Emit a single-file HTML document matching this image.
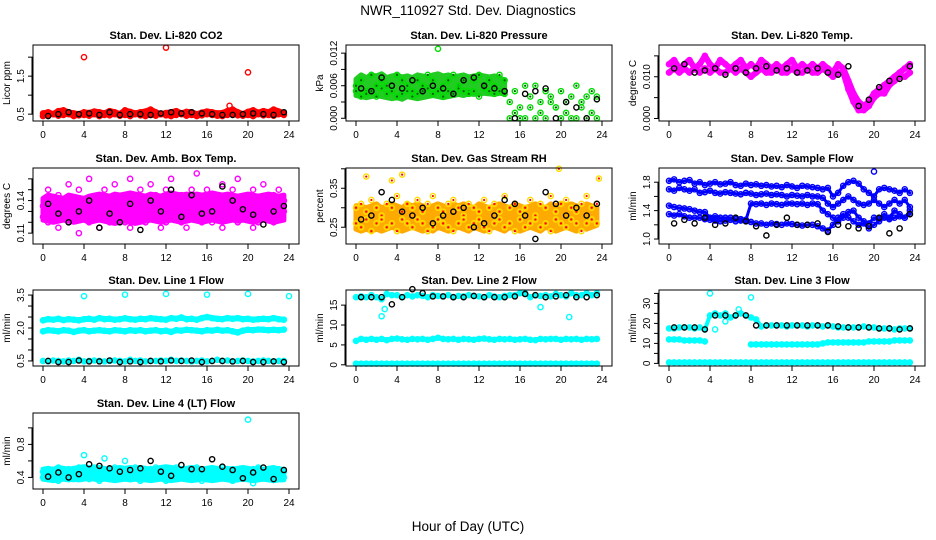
<!DOCTYPE html>
<html><head><meta charset="utf-8"><style>
html,body{margin:0;padding:0;background:#fff;}
svg{display:block;font-family:"Liberation Sans",sans-serif;}
</style></head><body>
<svg id="chart" width="936" height="540" viewBox="0 0 936 540" xmlns="http://www.w3.org/2000/svg">
<text x="468" y="15" text-anchor="middle" font-size="13.5">NWR_110927  Std. Dev. Diagnostics</text>
<text x="468" y="531" text-anchor="middle" font-size="13.5">Hour of Day (UTC)</text>
</svg>
<script>
// ---- shared time categories ----
const H48 = [0,0.5,1,1.5,2,2.5,3,3.5,4,4.5,5,5.5,6,6.5,7,7.5,8,8.5,9,9.5,10,10.5,11,11.5,12,12.5,13,13.5,14,14.5,15,15.5,16,16.5,17,17.5,18,18.5,19,19.5,20,20.5,21,21.5,22,22.5,23,23.5];
const H24 = [0.5,1.5,2.5,3.5,4.5,5.5,6.5,7.5,8.5,9.5,10.5,11.5,12.5,13.5,14.5,15.5,16.5,17.5,18.5,19.5,20.5,21.5,22.5,23.5];
const H30 = [0,0.5,1,1.5,2,2.5,3,3.5,4,4.5,5,5.5,6,6.5,7,7.5,8,8.5,9,9.5,10,10.5,11,11.5,12,12.5,13,13.5,14,14.5];
const xTicks = [0,4,8,12,16,20,24];

// ---- CO2 ----
const co2A = [0.52,0.55,0.50,0.58,0.60,0.55,0.52,0.50,0.55,0.53,0.57,0.55,0.52,0.58,0.55,0.50,0.60,0.56,0.52,0.55,0.57,0.62,0.55,0.50,0.53,0.55,0.58,0.52,0.56,0.55,0.50,0.54,0.57,0.55,0.52,0.53,0.58,0.62,0.55,0.50,0.56,0.60,0.54,0.58,0.55,0.62,0.57,0.52];
const co2B = [0.45,0.48,0.50,0.46,0.48,0.50,0.45,0.47,0.48,0.46,0.50,0.45,0.48,0.47,0.50,0.46,0.48,0.45,0.50,0.47,0.45,0.48,0.46,0.50,0.47,0.45,0.48,0.50,0.46,0.48,0.45,0.47,0.50,0.48,0.46,0.45,0.48,0.50,0.47,0.46,0.48,0.45,0.50,0.47,0.48,0.46,0.50,0.48];
const co2K = [0.45,0.50,0.55,0.50,0.52,0.48,0.55,0.48,0.50,0.50,0.48,0.52,0.55,0.52,0.55,0.52,0.50,0.48,0.48,0.50,0.52,0.50,0.48,0.55];
const co2OutX = [4,12,20,18.2];
const co2OutY = [2.0,2.25,1.6,0.72];

// ---- Pressure ----
const presA = [0.006,0.007,0.005,0.008,0.006,0.007,0.006,0.005,0.008,0.007,0.006,0.005,0.007,0.006,0.008,0.007,0.005,0.006,0.007,0.008,0.006,0.007,0.005,0.007,0.008,0.006,0.007,0.006,0.008,0.007,0.003,0.005,0.002,0.006,0.004,0.006,0.003,0.005,0.004,0.002,0.005,0.003,0.004,0.006,0.003,0.004,0.005,0.004];
const presB = [0.005,0.004,0.0045,0.005,0.004,0.0055,0.0045,0.005,0.004,0.0045,0.005,0.004,0.0045,0.005,0.0055,0.0045,0.005,0.004,0.005,0.0045,0.0055,0.005,0.0045,0.005,0.004,0.0055,0.005,0.0045,0.005,0.0045,0.0,0.001,0.0,0.0,0.002,0.0,0.001,0.0,0.003,0.002,0.0,0.001,0.0,0.0,0.002,0.0,0.001,0.0];
const presHi = [0.0072,0.008,0.0075,0.008,0.0078,0.0082,0.0075,0.0078,0.008,0.0076,0.0078,0.0075,0.008,0.0078,0.0076,0.008,0.0082,0.0078,0.008,0.0076,0.0078,0.008,0.0076,0.0078,0.008,0.0078,0.0076,0.0078,0.0075,0.007];
const presLo = [0.0042,0.004,0.0038,0.004,0.0042,0.004,0.0038,0.0036,0.0038,0.0035,0.004,0.0038,0.0036,0.0038,0.004,0.0042,0.004,0.0038,0.004,0.0042,0.0044,0.0042,0.0045,0.0044,0.0045,0.0046,0.0045,0.0044,0.0046,0.0045];
const presK = [0.0055,0.005,0.0075,0.006,0.0055,0.007,0.005,0.006,0.0055,0.0045,0.007,0.0075,0.006,0.0055,0.005,0.0,0.0045,0.005,0.0055,0.0,0.003,0.002,0.0,0.0035];
const presOutX = [8];
const presOutY = [0.0128];

// ---- Li-820 Temp ----
const tempA = [0.013,0.014,0.012,0.013,0.014,0.012,0.013,0.015,0.013,0.012,0.014,0.013,0.012,0.013,0.014,0.012,0.013,0.012,0.014,0.013,0.012,0.013,0.012,0.013,0.014,0.012,0.013,0.012,0.013,0.012,0.013,0.012,0.011,0.013,0.012,0.009,0.006,0.004,0.003,0.004,0.006,0.007,0.008,0.009,0.010,0.011,0.012,0.013];
const tempB = [0.011,0.012,0.011,0.012,0.011,0.012,0.011,0.012,0.011,0.012,0.011,0.011,0.012,0.011,0.012,0.011,0.010,0.011,0.012,0.011,0.011,0.012,0.011,0.011,0.012,0.011,0.011,0.012,0.011,0.011,0.012,0.011,0.010,0.011,0.011,0.007,0.004,0.002,0.002,0.003,0.005,0.006,0.006,0.008,0.009,0.010,0.010,0.011];
const tempK = [0.012,0.013,0.011,0.0115,0.012,0.0105,0.012,0.011,0.012,0.0125,0.0115,0.012,0.011,0.0115,0.012,0.011,0.0105,0.0125,0.003,0.0045,0.0075,0.009,0.0095,0.0125];

// ---- Amb Box Temp ----
const ambA = [0.135,0.15,0.14,0.145,0.13,0.155,0.14,0.15,0.135,0.16,0.14,0.145,0.15,0.13,0.155,0.14,0.145,0.16,0.135,0.15,0.14,0.155,0.145,0.135,0.15,0.16,0.14,0.145,0.135,0.15,0.165,0.14,0.15,0.145,0.135,0.155,0.14,0.15,0.16,0.135,0.145,0.15,0.14,0.155,0.135,0.145,0.15,0.14];
const ambB = [0.125,0.12,0.13,0.115,0.125,0.12,0.13,0.11,0.125,0.12,0.13,0.115,0.125,0.12,0.13,0.125,0.12,0.115,0.13,0.125,0.12,0.13,0.125,0.115,0.12,0.13,0.125,0.12,0.115,0.13,0.125,0.12,0.13,0.12,0.125,0.115,0.13,0.125,0.12,0.13,0.125,0.115,0.12,0.13,0.125,0.12,0.125,0.13];
const ambHi = [0.142,0.145,0.144,0.143,0.142,0.145,0.144,0.143,0.142,0.144,0.145,0.146,0.145,0.144,0.146,0.145,0.146,0.147,0.146,0.145,0.144,0.146,0.145,0.144,0.146,0.147,0.146,0.145,0.146,0.145,0.146,0.145,0.146,0.147,0.146,0.145,0.146,0.145,0.144,0.145,0.146,0.145,0.144,0.145,0.146,0.145,0.144,0.145];
const ambLo = [0.122,0.121,0.12,0.121,0.122,0.121,0.12,0.121,0.122,0.12,0.121,0.122,0.121,0.12,0.119,0.12,0.121,0.12,0.119,0.12,0.121,0.122,0.121,0.12,0.121,0.122,0.121,0.12,0.121,0.122,0.121,0.12,0.121,0.122,0.121,0.12,0.121,0.122,0.121,0.122,0.121,0.12,0.121,0.122,0.121,0.12,0.121,0.122];
const ambK = [0.137,0.128,0.12,0.13,0.14,0.115,0.128,0.12,0.137,0.113,0.14,0.13,0.15,0.125,0.145,0.128,0.13,0.153,0.14,0.132,0.127,0.118,0.13,0.135];

// ---- Gas Stream RH ----
const rhA = [0.30,0.31,0.29,0.32,0.30,0.28,0.31,0.30,0.33,0.29,0.31,0.30,0.32,0.29,0.31,0.33,0.30,0.29,0.31,0.32,0.30,0.28,0.31,0.30,0.29,0.32,0.30,0.31,0.29,0.33,0.30,0.31,0.29,0.30,0.32,0.28,0.31,0.30,0.33,0.29,0.31,0.32,0.30,0.29,0.31,0.33,0.30,0.31];
const rhB = [0.26,0.25,0.27,0.24,0.26,0.27,0.25,0.26,0.24,0.27,0.26,0.25,0.27,0.26,0.24,0.25,0.27,0.26,0.25,0.24,0.26,0.27,0.25,0.26,0.27,0.25,0.24,0.26,0.27,0.25,0.26,0.24,0.27,0.25,0.26,0.27,0.25,0.26,0.24,0.27,0.26,0.25,0.27,0.26,0.24,0.26,0.27,0.26];
const rhHi = [0.305,0.305,0.30,0.305,0.31,0.30,0.305,0.31,0.305,0.30,0.31,0.305,0.31,0.305,0.30,0.305,0.31,0.305,0.30,0.31,0.305,0.31,0.305,0.30,0.31,0.305,0.30,0.305,0.31,0.305,0.30,0.31,0.305,0.30,0.305,0.31,0.305,0.30,0.31,0.305,0.31,0.305,0.31,0.305,0.30,0.31,0.305,0.30];
const rhLo = [0.245,0.24,0.245,0.24,0.245,0.24,0.245,0.25,0.245,0.24,0.245,0.25,0.245,0.24,0.245,0.24,0.25,0.245,0.24,0.245,0.25,0.245,0.24,0.25,0.245,0.24,0.245,0.25,0.245,0.24,0.25,0.245,0.24,0.245,0.25,0.245,0.24,0.25,0.245,0.24,0.245,0.25,0.245,0.24,0.25,0.245,0.25,0.255];
const rhK = [0.27,0.28,0.34,0.32,0.29,0.28,0.30,0.26,0.28,0.29,0.30,0.25,0.26,0.28,0.32,0.31,0.28,0.22,0.34,0.31,0.28,0.30,0.28,0.31];
const rhOutX = [1,4.5,19.8,23.7,3.5];
const rhOutY = [0.38,0.385,0.40,0.375,0.37];

// ---- Sample Flow ----
const flA = [1.82,1.84,1.8,1.82,1.83,1.78,1.8,1.76,1.78,1.8,1.77,1.78,1.8,1.76,1.75,1.78,1.76,1.77,1.75,1.76,1.74,1.75,1.73,1.76,1.74,1.72,1.75,1.74,1.73,1.72,1.7,1.72,1.6,1.65,1.75,1.8,1.82,1.78,1.7,1.65,1.6,1.7,1.72,1.7,1.68,1.65,1.7,1.65];
const flB = [1.7,1.68,1.72,1.7,1.68,1.7,1.65,1.66,1.68,1.65,1.64,1.66,1.65,1.64,1.63,1.65,1.64,1.62,1.63,1.64,1.62,1.63,1.62,1.6,1.62,1.61,1.6,1.62,1.6,1.6,1.58,1.5,1.45,1.5,1.55,1.6,1.55,1.5,1.48,1.5,1.55,1.5,1.45,1.5,1.55,1.5,1.55,1.45];
const flC = [1.47,1.45,1.44,1.43,1.42,1.4,1.38,1.38,1.3,1.32,1.3,1.3,1.3,1.28,1.28,1.27,1.5,1.49,1.5,1.48,1.5,1.49,1.48,1.5,1.5,1.49,1.5,1.48,1.5,1.49,1.4,1.35,1.3,1.25,1.3,1.38,1.4,1.3,1.25,1.22,1.3,1.28,1.35,1.3,1.4,1.35,1.3,1.4];
const flD = [1.35,1.33,1.35,1.32,1.3,1.3,1.3,1.28,1.27,1.26,1.25,1.26,1.27,1.25,1.26,1.25,1.24,1.22,1.22,1.2,1.22,1.21,1.2,1.22,1.21,1.2,1.19,1.2,1.2,1.18,1.15,1.12,1.2,1.3,1.35,1.3,1.25,1.2,1.22,1.15,1.2,1.25,1.3,1.28,1.3,1.32,1.3,1.35];
const flK = [1.22,1.27,1.22,1.3,1.2,1.22,1.3,1.25,1.18,1.05,1.2,1.3,1.2,1.2,1.22,1.1,1.2,1.18,1.15,1.18,1.3,1.08,1.15,1.35];
const flOutX = [20];
const flOutY = [1.95];

// ---- Line 1 Flow ----
const l1A = [2.35,2.4,2.38,2.42,2.36,2.4,2.38,2.35,2.4,2.42,2.38,2.45,2.4,2.42,2.38,2.4,2.44,2.4,2.38,2.42,2.4,2.45,2.42,2.4,2.38,2.45,2.42,2.48,2.4,2.42,2.38,2.45,2.5,2.45,2.42,2.4,2.45,2.42,2.45,2.4,2.42,2.38,2.4,2.42,2.4,2.45,2.4,2.38];
const l1B = [1.85,1.9,1.88,1.85,1.9,1.88,1.82,1.88,1.9,1.85,1.88,1.9,1.87,1.85,1.9,1.88,1.85,1.9,1.87,1.9,1.85,1.88,1.9,1.85,1.88,1.82,1.9,1.88,1.92,1.9,1.88,1.85,1.9,1.88,1.92,1.88,1.9,1.85,1.8,1.88,1.92,1.9,1.93,1.92,1.9,1.92,1.9,1.93];
const l1C = [0.5,0.48,0.52,0.5,0.48,0.52,0.5,0.55,0.48,0.5,0.52,0.5,0.48,0.5,0.52,0.5,0.48,0.55,0.5,0.52,0.48,0.5,0.5,0.52,0.5,0.55,0.5,0.52,0.5,0.48,0.5,0.52,0.48,0.5,0.55,0.5,0.52,0.48,0.5,0.52,0.5,0.48,0.5,0.52,0.5,0.48,0.5,0.5];
const l1K = [0.5,0.45,0.45,0.52,0.48,0.48,0.52,0.45,0.48,0.45,0.5,0.48,0.52,0.5,0.52,0.45,0.5,0.5,0.48,0.5,0.45,0.45,0.48,0.45];
const l1OutX = [4,8,12,16,20,24];
const l1OutY = [3.45,3.52,3.55,3.52,3.55,3.45];

// ---- Line 2 Flow ----
const l2A = [17,17.2,17,17.5,17,16.5,17.8,17.5,17.5,17,17.5,17.2,17.5,17.3,17,17.5,17.3,17.2,17.5,17,17.3,17.2,17.5,17.3,17.2,17,17.5,17.2,17,17.3,17.5,17.5,18,18,17,17.5,17.3,17.5,17.2,17.8,17.5,17.2,18,17.5,17.5,18,17.5,18];
const l2B = [6,6.5,6.3,6.5,6.3,6.5,6.2,6.5,6.6,6.4,6.3,6.5,6.4,6.5,6.3,6.5,6.8,6.5,6.4,6.5,6.3,6.5,6.4,6.3,6.5,6.6,6.4,6.3,6.5,6.4,6.5,6.3,6.4,6.5,6.3,6.2,6.5,6.4,6.5,6.5,6.3,6.5,6.4,6.5,6.3,6.5,6.4,6.5];
const l2C = [0.3,0.3,0.3,0.3,0.3,0.3,0.3,0.3,0.3,0.3,0.3,0.3,0.3,0.3,0.3,0.3,0.3,0.3,0.3,0.3,0.3,0.3,0.3,0.3,0.3,0.3,0.3,0.3,0.3,0.3,0.3,0.3,0.3,0.3,0.3,0.3,0.3,0.3,0.3,0.3,0.3,0.3,0.3,0.3,0.3,0.3,0.3,0.3];
const l2K = [17,17,17,15.2,17,19,18,17.2,17.2,17,17,17.3,17,17,17,17.2,17.8,17.5,17,17.2,17.5,17,17,17.5];
const l2OutX = [2.5,2.8,20.8,18];
const l2OutY = [12.2,14,12,14.5];

// ---- Line 3 Flow ----
const l3A = [17.5,17.5,18,18,18,17.5,18,17,24,25,24,25,23,24,25,24,23,22,18.5,19,19,19,19,18.5,19,19,19,18.5,19,19,18.5,19,18.5,18,18,18,18,18,18.5,18,18,17.5,17.5,17.5,17,17.5,17.5,17.5];
const l3B = [12,12,12,11.5,11.5,11.5,11.5,11,null,null,null,null,null,null,null,null,9.5,9.5,9.5,9.5,9.5,9.5,9.5,9.5,9.5,9.5,9.5,9.5,9.5,9.5,10,10.5,10.5,10.5,10.5,10.5,10.5,10.5,10.5,11,11,11,11,11,11.5,11.5,11.5,11.5];
const l3C = [0.5,0.5,0.5,0.5,0.5,0.5,0.5,0.5,0.5,0.5,0.5,0.5,0.5,0.5,0.5,0.5,0.5,0.5,0.5,0.5,0.5,0.5,0.5,0.5,0.5,0.5,0.5,0.5,0.5,0.5,0.5,0.5,0.5,0.5,0.5,0.5,0.5,0.5,0.5,0.5,0.5,0.5,0.5,0.5,0.5,0.5,0.5,0.5];
const l3K = [18,18,18,17,24,24,24,24,19,19,19,19,19,19,19,19,18.5,18,18,18,17.5,17.5,17,17.5];
const l3OutX = [4,8,4.5,5.5,6.8];
const l3OutY = [35,33,17,21,27];

// ---- Line 4 (LT) Flow ----
const l4A = [0.47,0.5,0.45,0.52,0.48,0.5,0.46,0.52,0.5,0.48,0.52,0.5,0.47,0.5,0.52,0.48,0.5,0.47,0.52,0.5,0.48,0.5,0.52,0.47,0.5,0.48,0.52,0.5,0.47,0.5,0.52,0.48,0.5,0.47,0.5,0.52,0.48,0.5,0.47,0.5,0.48,0.5,0.52,0.47,0.5,0.48,0.5,0.47];
const l4B = [0.4,0.38,0.42,0.36,0.4,0.42,0.38,0.4,0.42,0.38,0.4,0.36,0.42,0.4,0.38,0.42,0.4,0.38,0.42,0.36,0.4,0.42,0.38,0.4,0.36,0.42,0.38,0.4,0.42,0.38,0.4,0.36,0.42,0.4,0.38,0.42,0.4,0.36,0.38,0.42,0.4,0.33,0.38,0.42,0.4,0.38,0.42,0.4];
const l4Hi = [0.5,0.51,0.5,0.52,0.51,0.5,0.51,0.52,0.53,0.52,0.51,0.52,0.51,0.5,0.51,0.52,0.51,0.52,0.51,0.52,0.51,0.5,0.51,0.52,0.53,0.52,0.51,0.5,0.51,0.52,0.51,0.5,0.51,0.52,0.51,0.5,0.51,0.5,0.51,0.52,0.51,0.5,0.51,0.5,0.51,0.52,0.5,0.5];
const l4Lo = [0.38,0.37,0.36,0.37,0.38,0.37,0.38,0.37,0.38,0.39,0.38,0.37,0.38,0.37,0.36,0.37,0.38,0.37,0.38,0.37,0.37,0.36,0.37,0.38,0.37,0.36,0.37,0.38,0.37,0.36,0.37,0.38,0.37,0.36,0.37,0.38,0.37,0.36,0.37,0.38,0.37,0.36,0.37,0.38,0.37,0.36,0.37,0.37];
const l4K = [0.41,0.46,0.4,0.44,0.56,0.54,0.51,0.47,0.49,0.51,0.6,0.47,0.42,0.55,0.5,0.5,0.62,0.53,0.49,0.39,0.46,0.52,0.38,0.49];
const l4OutX = [20,4,6,8];
const l4OutY = [1.1,0.67,0.63,0.6];

const ns = 'http://www.w3.org/2000/svg';
const svg = document.getElementById('chart');
function mk(tag, attrs, parent){ const e=document.createElementNS(ns,tag); for(const k in attrs) e.setAttribute(k,attrs[k]); (parent||svg).appendChild(e); return e; }

const colX = [33,346,659];
const rowY = [45,168,290,413];
const W = 266, Hh = 76;

function panel(slug, col, row, title, ylab, ymin, ymax, ticks, labels, series){
  const g = mk('g',{});
  
  
  const L = colX[col], T = rowY[row];
  const sx = h => L + 10 + h*(W-20)/24;
  const sy = v => T + Hh - (v - ymin)/(ymax - ymin)*Hh;
  const t = mk('text',{x:L+W/2, y:T-6, 'text-anchor':'middle','font-size':'11','font-weight':'bold'},g);
  t.textContent = title;
  
  
  series.forEach((s)=>{
    const sg = mk('g',{},g);
    
    
    if(s.lo){
      let pts=[];
      s.y.forEach((v,i)=>pts.push(sx(s.x[i]).toFixed(1)+','+sy(v).toFixed(1)));
      for(let i=s.lo.length-1;i>=0;i--) pts.push(sx(s.x[i]).toFixed(1)+','+sy(s.lo[i]).toFixed(1));
      mk('polygon',{points:pts.join(' '),fill:s.c,stroke:s.c,'stroke-width':5,'stroke-linejoin':'round'},sg);
      return;
    }
    if(s.band){
      let d=''; let pen=false;
      s.y.forEach((v,i)=>{ if(v===null){pen=false;return;} d += (pen?'L':'M')+sx(s.x[i]).toFixed(1)+','+sy(v).toFixed(1); pen=true; });
      mk('path',{d:d,fill:'none',stroke:s.c,'stroke-width':s.band,'stroke-linejoin':'round','stroke-linecap':'round'},sg);
    }
    s.y.forEach((v,i)=>{
      if(v===null) return;
      const c = mk('circle',{cx:sx(s.x[i]),cy:sy(v),r:2.6,fill:'none',stroke:s.c,'stroke-width':1.4},sg);
      
      
      if(s.dot) mk('circle',{cx:sx(s.x[i]),cy:sy(v),r:1.1,fill:s.dot},sg);
    });
  });
  const box = mk('rect',{x:L,y:T,width:W,height:Hh,fill:'none',stroke:'#000','stroke-width':1},g);
  
  
  const xa = mk('g',{},g);
  
  
  xTicks.forEach(h=>{
    mk('line',{x1:sx(h),x2:sx(h),y1:T+Hh,y2:T+Hh+5,stroke:'#000'},xa);
    const tl = mk('text',{x:sx(h),y:T+Hh+17,'text-anchor':'middle','font-size':'10'},xa);
    tl.textContent = h;
  });
  const ya = mk('g',{},g);
  
  
  mk('line',{x1:L-1,x2:L-1,y1:sy(ticks[0]),y2:sy(ticks[ticks.length-1]),stroke:'#000'},ya);
  ticks.forEach((v,i)=>{
    mk('line',{x1:L,x2:L-5,y1:sy(v),y2:sy(v),stroke:'#000'},ya);
    if(labels[i]){
      const tl = mk('text',{x:L-9,y:sy(v),'text-anchor':'middle','font-size':'10',transform:`rotate(-90 ${L-9} ${sy(v)})`},ya);
      tl.textContent = labels[i];
    }
  });
  const yl = mk('text',{x:L-23,y:T+Hh/2,'text-anchor':'middle','font-size':'10',transform:`rotate(-90 ${L-23} ${T+Hh/2})`},g);
  yl.textContent = ylab;
  
  
}

const RED='#ff0000', GRN='#00dd00', MAG='#ff00ff', BLU='#0000ff', CYN='#00ffff', BLK='#000';
panel('co2',0,0,'Stan. Dev. Li-820 CO2','Licor ppm',0.32,2.32,[0.5,1.0,1.5,2.0],['0.5','','1.5',''],[
  {name:'band-a',x:H48,y:co2A,c:RED,band:6},{name:'band-b',x:H48,y:co2B,c:RED,band:5},
  {name:'outliers',x:co2OutX,y:co2OutY,c:RED},{name:'hourly',x:H24,y:co2K,c:BLK}]);
panel('pressure',1,0,'Stan. Dev. Li-820 Pressure','kPa',-0.0005,0.0135,[0,0.003,0.006,0.009,0.012],['0.000','','0.006','','0.012'],[
  {name:'core',x:H30,y:presHi,lo:presLo,c:'#22cc22'},
  {name:'band-a',x:H48,y:presA,c:GRN,dot:'#006600'},{name:'band-b',x:H48,y:presB,c:GRN,dot:'#006600'},
  {name:'outliers',x:presOutX,y:presOutY,c:GRN},{name:'hourly',x:H24,y:presK,c:BLK}]);
panel('li-temp',2,0,'Stan. Dev. Li-820 Temp.','degrees C',-0.0006,0.0176,[0,0.005,0.010,0.015],['0.000','','0.010',''],[
  {name:'band-a',x:H48,y:tempA,c:MAG,band:6},{name:'band-b',x:H48,y:tempB,c:MAG,band:6},{name:'hourly',x:H24,y:tempK,c:BLK}]);
panel('amb-temp',0,1,'Stan. Dev. Amb. Box Temp.','degrees C',0.100,0.170,[0.11,0.12,0.13,0.14,0.15,0.16],['0.11','','','0.14','',''],[
  {name:'core',x:H48,y:ambHi,lo:ambLo,c:MAG},
  {name:'band-a',x:H48,y:ambA,c:MAG},{name:'band-b',x:H48,y:ambB,c:MAG},{name:'hourly',x:H24,y:ambK,c:BLK}]);
panel('rh',1,1,'Stan. Dev. Gas Stream RH','percent',0.207,0.402,[0.25,0.30,0.35,0.40],['0.25','','0.35',''],[
  {name:'core',x:H48,y:rhHi,lo:rhLo,c:'#ffaa00'},
  {name:'band-a',x:H48,y:rhA,c:'#ffdd00',dot:RED},{name:'band-b',x:H48,y:rhB,c:'#ffdd00',dot:RED},
  {name:'outliers',x:rhOutX,y:rhOutY,c:'#ffdd00',dot:RED},{name:'hourly',x:H24,y:rhK,c:BLK}]);
panel('sample-flow',2,1,'Stan. Dev. Sample Flow','ml/min',0.93,2.0,[1.0,1.2,1.4,1.6,1.8],['1.0','','1.4','','1.8'],[
  {name:'band-a',x:H48,y:flA,c:BLU,band:3},{name:'band-b',x:H48,y:flB,c:BLU,band:3},{name:'band-c',x:H48,y:flC,c:BLU,band:3},{name:'band-d',x:H48,y:flD,c:BLU,band:3},
  {name:'outliers',x:flOutX,y:flOutY,c:BLU},{name:'hourly',x:H24,y:flK,c:BLK}]);
panel('line1',0,2,'Stan. Dev. Line 1 Flow','ml/min',0.27,3.73,[0.5,1.0,1.5,2.0,2.5,3.0,3.5],['0.5','','','2.0','','','3.5'],[
  {name:'band-a',x:H48,y:l1A,c:CYN,band:6},{name:'band-b',x:H48,y:l1B,c:CYN,band:6},{name:'band-c',x:H48,y:l1C,c:CYN,band:4},
  {name:'outliers',x:l1OutX,y:l1OutY,c:CYN},{name:'hourly',x:H24,y:l1K,c:BLK}]);
panel('line2',1,2,'Stan. Dev. Line 2 Flow','ml/min',-0.3,18.8,[0,5,10,15],['0','5','10','15'],[
  {name:'band-a',x:H48,y:l2A,c:CYN,band:4},{name:'band-b',x:H48,y:l2B,c:CYN,band:5},{name:'band-c',x:H48,y:l2C,c:CYN,band:5},
  {name:'outliers',x:l2OutX,y:l2OutY,c:CYN},{name:'hourly',x:H24,y:l2K,c:BLK}]);
panel('line3',2,2,'Stan. Dev. Line 3 Flow','ml/min',-1.3,36.7,[0,5,10,15,20,25,30,35],['0','','10','','20','','30',''],[
  {name:'band-a',x:H48,y:l3A,c:CYN,band:4},{name:'band-b',x:H48,y:l3B,c:CYN,band:5},{name:'band-c',x:H48,y:l3C,c:CYN,band:5},
  {name:'outliers',x:l3OutX,y:l3OutY,c:CYN},{name:'hourly',x:H24,y:l3K,c:BLK}]);
panel('line4',0,3,'Stan. Dev. Line 4 (LT) Flow','ml/min',0.26,1.18,[0.4,0.6,0.8,1.0],['0.4','','0.8',''],[
  {name:'core',x:H48,y:l4Hi,lo:l4Lo,c:CYN},
  {name:'band-a',x:H48,y:l4A,c:CYN},{name:'band-b',x:H48,y:l4B,c:CYN},
  {name:'outliers',x:l4OutX,y:l4OutY,c:CYN},{name:'hourly',x:H24,y:l4K,c:BLK}]);
</script>
</body></html>
